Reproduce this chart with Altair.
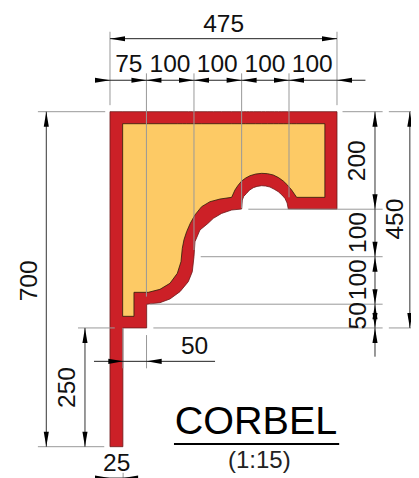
import altair as alt
import pandas as pd

# Section outline, in drawing units
red_x = [0, 27, 27, 76.8, 76.8, 104.7, 125.6, 146.6, 164, 172.4, 175.9, 178, 188.4, 205, 216.4, 233.8, 254.8, 275.7, 277.1, 280, 286.2, 292, 300.1, 308, 317.6, 326, 335, 344, 352.5, 360, 366.5, 371, 373.4, 475.4]
red_bottom = [0, 0, 250, 250, 299.8, 303.2, 311, 326.4, 347.5, 368.5, 400, 431.7, 456.2, 470, 480.7, 491.2, 498.3, 500.4, 519.3, 527, 533.4, 540, 545.3, 548, 549.5, 548.8, 546.7, 542, 536.9, 530, 522.8, 513, 500.4, 500]
red_top = 705.3

yel_x = [26.5, 50.2, 50.2, 80.2, 104.7, 125.6, 141, 148.7, 151.4, 155, 160.5, 168, 178, 191.9, 209.4, 230.3, 254.8, 261.7, 268, 275.7, 284, 293.2, 305, 317.6, 330, 342, 353, 363, 372, 380.4, 390.9, 450]
yel_bottom = [274.5, 274.5, 325, 325, 331.3, 344, 365, 389.6, 417.6, 436, 452.7, 470, 488, 505.3, 515.8, 521.4, 525, 540.4, 550, 559.3, 565.5, 570.5, 574, 575.5, 574.8, 572, 566.5, 559.3, 550.5, 540.4, 525, 525]
yel_top = 680

# Extension lines
vext_x = [0, 475.4, 76.3, 76.5, 175.9, 275.7, 374.9, 27, 27.5]
vext_y = [719, 719, 316, 165, 414, 502, 525, 165, -66]
vext_y2 = [873.6, 873.6, 786, 235, 786, 786, 786, 250, -55]

hext_y = [705.3, 705.3, 705.3, 500, 400, 300, 250, 250, 250, 0]
hext_x = [-151, 487, 584, 289.7, 190, 84, 90.8, 584, -67, -151]
hext_x2 = [-10, 571, 647, 571, 571, 571, 571, 647, 10, -12]

# Dimension lines
hdim_y = [859, 771.5, 179.7, -66]
hdim_x = [0, -31, -33.5, -28]
hdim_x2 = [475.4, 535, 220, 56]

vdim_x = [-133.4, -52.4, 555, 628]
vdim_y = [0, 0, 189.5, 250]
vdim_y2 = [705.3, 250, 705.3, 705.3]

# Arrowheads: tips
LEFT = "M0,0L2,-0.34L2,0.34Z"
RIGHT = "M0,0L-2,-0.34L-2,0.34Z"
UP = "M0,0L-0.34,2L0.34,2Z"
DOWN = "M0,0L-0.34,-2L0.34,-2Z"
arrow_x = [0, 475.4, 0, 76.3, 76.3, 175.9, 175.9, 275.7, 275.7, 374.9, 374.9, 475.4,
           -133.4, -133.4, -52.4, -52.4,
           555, 555, 555, 555, 555, 555, 555, 555,
           628, 628,
           27.9, 76.8, 0, 27.5]
arrow_y = [859, 859, 771.5, 771.5, 771.5, 771.5, 771.5, 771.5, 771.5, 771.5, 771.5, 771.5,
           705.3, 0, 250, 0,
           705.3, 500, 400, 400, 300, 300, 250, 250,
           705.3, 250,
           179.7, 179.7, -66, -66]
arrow_s = [LEFT, RIGHT, RIGHT, RIGHT, LEFT, RIGHT, LEFT, RIGHT, LEFT, RIGHT, LEFT, LEFT,
           UP, DOWN, UP, DOWN,
           UP, DOWN, DOWN, UP, DOWN, UP, DOWN, UP,
           UP, DOWN,
           RIGHT, LEFT, RIGHT, LEFT]

# Labels
hlabel = ["475", "75", "100", "100", "100", "100", "50", "25"]
hlabel_x = [238, 39.4, 125.7, 224.7, 324.6, 423.7, 177, 14]
hlabel_y = [887.5, 802.7, 802.7, 802.7, 802.7, 802.7, 210.5, -37]

vlabel = ["200", "450", "100", "100", "50", "700", "250"]
vlabel_x = [520, 599, 522, 522, 522, -167.5, -87.3]
vlabel_y = [602, 479, 451, 351.6, 275.6, 349, 124.6]

title = ["CORBEL"]
title_x = [305.8]
title_y = [52.6]
scale_txt = ["(1:15)"]
scale_x = [312.7]
scale_y = [-29.5]
under_x, under_x2, under_y = [134], [480], [5.6]

FONT = "Liberation Sans"
X = alt.Scale(domain=[-213.6, 630.4], nice=False, zero=False)
Y = alt.Scale(domain=[-65.9, 923.6], nice=False, zero=False)


def xe(f="x"):
    return alt.X(f"{f}:Q", scale=X, axis=None)


def ye(f="y"):
    return alt.Y(f"{f}:Q", scale=Y, axis=None)


red = pd.DataFrame({"x": red_x, "b": red_bottom, "t": [red_top] * len(red_x)})
yel = pd.DataFrame({"x": yel_x, "b": yel_bottom, "t": [yel_top] * len(yel_x)})

red_l = alt.Chart(red).mark_area(orient="vertical", fill="#cc2027", stroke="#6b1a1c", strokeWidth=0.8).encode(
    x=xe(), y=ye("b"), y2="t:Q")
yel_l = alt.Chart(yel).mark_area(orient="vertical", fill="#fdca65", stroke="#2b1d0a", strokeWidth=0.8).encode(
    x=xe(), y=ye("b"), y2="t:Q")

vext = alt.Chart(pd.DataFrame({"x": vext_x, "y": vext_y, "y2": vext_y2})).mark_rule(
    color="#999999", strokeWidth=1).encode(x=xe(), y=ye(), y2="y2:Q")
hext = alt.Chart(pd.DataFrame({"y": hext_y, "x": hext_x, "x2": hext_x2})).mark_rule(
    color="#999999", strokeWidth=1).encode(y=ye(), x=xe(), x2="x2:Q")
hdim = alt.Chart(pd.DataFrame({"y": hdim_y, "x": hdim_x, "x2": hdim_x2})).mark_rule(
    color="#222222", strokeWidth=1).encode(y=ye(), x=xe(), x2="x2:Q")
vdim = alt.Chart(pd.DataFrame({"x": vdim_x, "y": vdim_y, "y2": vdim_y2})).mark_rule(
    color="#333333", strokeWidth=1).encode(x=xe(), y=ye(), y2="y2:Q")

arrows = alt.Chart(pd.DataFrame({"x": arrow_x, "y": arrow_y, "s": arrow_s})).mark_point(
    filled=True, size=225, color="#000000", opacity=1, strokeWidth=0).encode(
    x=xe(), y=ye(), shape=alt.Shape("s:N", scale=None))

h_txt = alt.Chart(pd.DataFrame({"x": hlabel_x, "y": hlabel_y, "t": hlabel})).mark_text(
    font=FONT, fontSize=24.5, color="#111111", align="center", baseline="middle").encode(
    x=xe(), y=ye(), text="t:N")
v_txt = alt.Chart(pd.DataFrame({"x": vlabel_x, "y": vlabel_y, "t": vlabel})).mark_text(
    font=FONT, fontSize=24.5, color="#111111", align="center", baseline="middle", angle=270).encode(
    x=xe(), y=ye(), text="t:N")
t_txt = alt.Chart(pd.DataFrame({"x": title_x, "y": title_y, "t": title})).mark_text(
    font=FONT, fontSize=39.5, color="#000000", align="center", baseline="middle").encode(
    x=xe(), y=ye(), text="t:N")
s_txt = alt.Chart(pd.DataFrame({"x": scale_x, "y": scale_y, "t": scale_txt})).mark_text(
    font=FONT, fontSize=24, color="#222222", align="center", baseline="middle").encode(
    x=xe(), y=ye(), text="t:N")
under = alt.Chart(pd.DataFrame({"y": under_y, "x": under_x, "x2": under_x2})).mark_rule(
    color="#000000", strokeWidth=2).encode(y=ye(), x=xe(), x2="x2:Q")

chart = alt.layer(red_l, yel_l, vext, hext, hdim, vdim, arrows, h_txt, v_txt, t_txt, s_txt, under).properties(
    width=403, height=470, padding=0, autosize=alt.AutoSizeParams(type="none"),
    background="#ffffff",
).configure_view(stroke=None)

chart.save("out.html", embed_options={"renderer": "svg", "actions": False})
